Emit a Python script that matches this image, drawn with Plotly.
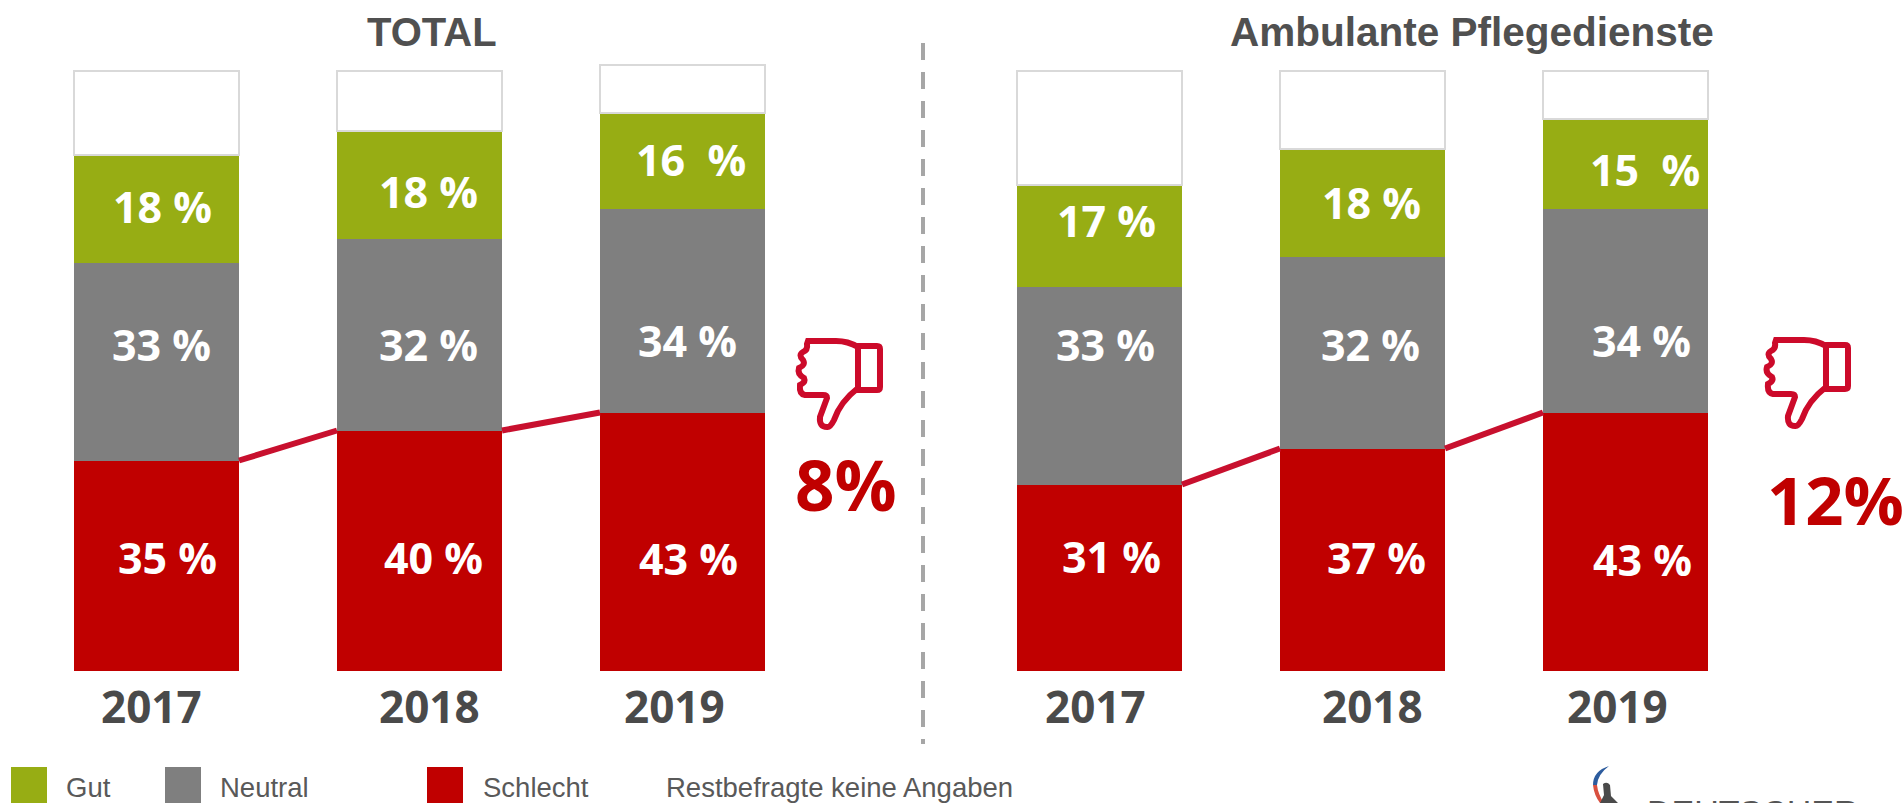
import plotly.graph_objects as go

W, H = 1904, 803

years = ["2017", "2018", "2019"]
total_schlecht = [35, 40, 43]
total_neutral = [33, 32, 34]
total_gut = [18, 18, 16]
total_rest = [14, 10, 8]
pflege_schlecht = [31, 37, 43]
pflege_neutral = [33, 32, 34]
pflege_gut = [17, 18, 15]
pflege_rest = [19, 13, 8]
panel_titles = ["TOTAL", "Ambulante Pflegedienste"]
change_labels = ["8%", "12%"]
legend_labels = ["Gut", "Neutral", "Schlecht", "Restbefragte keine Angaben"]

RED, GREY, GREEN = "#C00000", "#7F7F7F", "#97AD14"
LINE_RED = "#C8102E"
DARK = "#4A4A4A"
BAR_W = 165 / 263


def px(x):
    return x / W


def py(y):
    return 1 - y / H


fig = go.Figure()
panels = [
    ("x", "y", total_schlecht, total_neutral, total_gut, total_rest),
    ("x2", "y2", pflege_schlecht, pflege_neutral, pflege_gut, pflege_rest),
]
positions = [0, 1, 2]
for xa, ya, red, neutral, gut, rest in panels:
    for vals, col, name in [(red, RED, "Schlecht"), (neutral, GREY, "Neutral"), (gut, GREEN, "Gut")]:
        fig.add_trace(go.Bar(x=positions, y=vals, width=BAR_W, name=name, xaxis=xa, yaxis=ya,
                             marker=dict(color=col, line=dict(width=0)), showlegend=False))
    fig.add_trace(go.Bar(x=positions, y=rest, width=BAR_W, name="Rest", xaxis=xa, yaxis=ya,
                         marker=dict(color="white", line=dict(color="#D9D9D9", width=2)), showlegend=False))
    fig.add_trace(go.Scatter(
        x=[0 + BAR_W / 2, 1 - BAR_W / 2, None, 1 + BAR_W / 2, 2 - BAR_W / 2],
        y=[red[0], red[1], None, red[1], red[2]],
        mode="lines", xaxis=xa, yaxis=ya, showlegend=False,
        line=dict(color=LINE_RED, width=6)))

ann = []


def text(x, y, t, size, color, family="Open Sans", bold=False, xanchor="center"):
    ann.append(dict(x=px(x), y=py(y), xref="paper", yref="paper", text=f"<b>{t}</b>" if bold else t,
                    showarrow=False, xanchor=xanchor, yanchor="middle",
                    font=dict(family=family, size=size, color=color)))


label_fmt = "{} %"
wide_fmt = "{}\u00a0\u00a0%"
LS = 43
coords = {
    "tg": [(162, 207), (428, 191.5), (691, 159)],
    "tn": [(161, 345), (428, 345), (687, 340)],
    "tr": [(167, 557), (433, 557), (688, 558)],
    "pg": [(1106, 220.5), (1371, 202), (1645, 170)],
    "pn": [(1105, 345), (1370, 345), (1641, 340)],
    "pr": [(1111, 556.5), (1376, 557), (1642, 559)],
}
for key, vals in [("tg", total_gut), ("tn", total_neutral), ("tr", total_schlecht),
                  ("pg", pflege_gut), ("pn", pflege_neutral), ("pr", pflege_schlecht)]:
    for i, (v, (x, y)) in enumerate(zip(vals, coords[key])):
        fmt = wide_fmt if key in ("tg", "pg") and i == 2 else label_fmt
        text(x, y, fmt.format(v), LS, "white", bold=True)

for x, yr in zip([151.5, 429.5, 674, 1095, 1372, 1617.5], years * 2):
    text(x, 706, yr, 44, DARK, bold=True)

text(432, 32, panel_titles[0], 40, "#505050", "Liberation Sans", True)
text(1472, 32, panel_titles[1], 40.5, "#505050", "Liberation Sans", True)
text(846, 484, change_labels[0], 69, RED, bold=True)
text(1835, 499, change_labels[1], 67, RED, bold=True)

for x, t in zip([64, 218, 481, 664], legend_labels):
    text(x, 787, t, 27.5, "#595959", "Liberation Sans", xanchor="left")
ann.append(dict(x=px(1645), y=py(796), xref="paper", yref="paper", text="DEUTSCHER", showarrow=False,
                xanchor="left", yanchor="top", yshift=5,
                font=dict(family="Liberation Sans", size=34, color="#555555")))

shapes = []
# dashed separator
shapes.append(dict(type="line", xref="paper", yref="paper", x0=px(923), x1=px(923), y0=py(43), y1=py(744),
                   line=dict(color="#A6A6A6", width=4, dash="17px,12px")))
# legend swatches
for x0, col in zip([11, 165, 427], [GREEN, GREY, RED]):
    shapes.append(dict(type="rect", xref="paper", yref="paper", x0=px(x0), x1=px(x0 + 36),
                       y0=py(767), y1=py(803), fillcolor=col, line=dict(width=0)))


def path(cmds, dx=0, dy=0):
    out = []
    for c in cmds:
        if isinstance(c, str):
            out.append(c)
        else:
            out.append(f"{px(c[0] + dx):.5f},{py(c[1] + dy):.5f}")
    return " ".join(out)


THUMB = [
    "M", (808, 341), "L", (836, 341), "Q", (848, 341), (858, 347), "L", (858, 388),
    "Q", (840, 402), (834, 420), "Q", (830, 428), (827, 427), "Q", (819, 427), (820, 417),
    "L", (827, 398), "Q", (827, 395), (823, 395), "L", (805, 395), "Q", (799, 394), (800, 385),
    "Q", (806, 382), (804, 378), "Q", (797, 374), (799, 368), "Q", (806, 365), (803, 360),
    "Q", (798, 355), (803, 352), "Q", (808, 350), (807, 344), "Z",
]
CUFF = ["M", (858, 346), "L", (877, 346), "Q", (880, 346), (880, 349), "L", (880, 387),
        "Q", (880, 390), (877, 390), "L", (858, 390), "Z"]
for dx, dy in [(0, 0), (968, -1)]:
    for p in (THUMB, CUFF):
        shapes.append(dict(type="path", xref="paper", yref="paper", path=path(p, dx, dy),
                           line=dict(color="#CC0A2A", width=6), fillcolor="rgba(0,0,0,0)"))

# logo fragment
LX = -4
shapes.append(dict(type="path", xref="paper", yref="paper",
                   path=path(["M", (1613, 766), "Q", (1597, 771), (1597, 785), "L", (1601, 785), "Q", (1602, 774), (1613, 766), "Z"], LX),
                   fillcolor="#2D5C9E", line=dict(width=0)))
shapes.append(dict(type="path", xref="paper", yref="paper",
                   path=path(["M", (1597, 785), "Q", (1598, 795), (1604, 803), "L", (1608, 803), "Q", (1602, 794), (1601, 785), "Z"], LX),
                   fillcolor="#D9503F", line=dict(width=0)))
shapes.append(dict(type="path", xref="paper", yref="paper",
                   path=path(["M", (1607, 784), "Q", (1611, 781), (1614, 785), "L", (1615, 796), "L", (1622, 803), "L", (1604, 803), "L", (1608, 795), "Z"], LX),
                   fillcolor="#4A4A4A", line=dict(width=0)))

axis_x = dict(range=[-0.5, 2.5], visible=False, fixedrange=True)
axis_y = dict(range=[-132.5 / 6, 670.5 / 6], visible=False, domain=[0, 1], fixedrange=True)
fig.update_layout(
    width=W, height=H, margin=dict(l=0, r=0, t=0, b=0, pad=0, autoexpand=False),
    paper_bgcolor="white", plot_bgcolor="white", barmode="stack", bargap=0, showlegend=False,
    xaxis=dict(axis_x, domain=[px(25), px(814)], anchor="y"),
    yaxis=dict(axis_y, anchor="x"),
    xaxis2=dict(axis_x, domain=[px(968), px(1757)], anchor="y2"),
    yaxis2=dict(axis_y, anchor="x2"),
    annotations=ann, shapes=shapes,
)
fig.write_html("out.html", config={"displayModeBar": False},
               post_script="document.body.style.margin='0';document.body.style.overflow='hidden';")
